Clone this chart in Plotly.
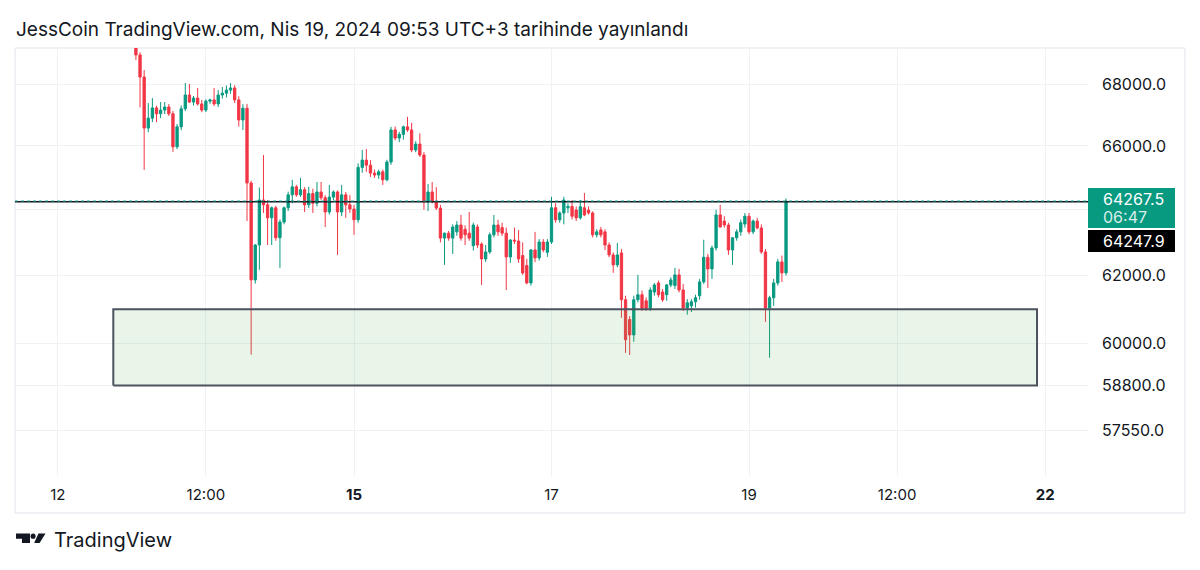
import math
import pandas as pd
import plotly.graph_objects as go

# ---------------- data (1h candles) ----------------
open_ = [69400, 68960, 68230, 66570, 66890, 67220, 67030, 67150, 67250, 67030,
         65970, 66610, 67190, 67640, 67410, 67540, 67350, 67150, 67440, 67480,
         67350, 67640, 67700, 67800, 67870, 67480, 66830, 67210, 64830, 61870,
         62920, 64300, 64150, 63750, 64060, 63140, 63620, 64060, 64460, 64710,
         64460, 64620, 64150, 64500, 64200, 64550, 64370, 63930, 64390, 64550,
         63930, 64460, 64150, 64020, 63690, 65320, 65550, 65390, 65140, 65080,
         65180, 64930, 65490, 66510, 66250, 66370, 66610, 66510, 65870, 66060,
         65710, 64240, 64550, 64240, 64050, 63130, 63280, 63130, 63320, 63530,
         63400, 63280, 62900, 63470, 62950, 62500, 62710, 63230, 63530, 63450,
         63280, 62560, 63070, 63040, 62600, 62300, 61780, 62770, 62530, 63010,
         62700, 63010, 64060, 63690, 63900, 64060, 64100, 63990, 63750, 64060,
         63990, 63900, 63230, 63380, 63320, 62920, 62620, 62320, 62680, 61280,
         60700, 60250, 61280, 61430, 61250, 61020, 61510, 61780, 61510, 61430,
         61720, 61700, 62020, 61570, 61040, 61100, 61220, 61400, 61810, 62550,
         62200, 62830, 63840, 63650, 63530, 62770, 63140, 63320, 63560, 63800,
         63320, 63650, 63440, 62710, 61040, 61340, 61780, 62410, 62080]
high = [69700, 69050, 68460, 67380, 67540, 67290, 67410, 67410, 67350, 67120,
        66700, 67300, 68030, 68000, 67610, 67870, 67480, 67500, 67520, 67870,
        67800, 67900, 67950, 68030, 67960, 67600, 67340, 67350, 64900, 62950,
        64690, 65710, 64300, 64100, 64120, 63700, 64100, 64560, 64930, 64770,
        64990, 64700, 64710, 64650, 64860, 64860, 64450, 64770, 64600, 64600,
        64770, 64550, 64450, 64150, 65450, 65870, 65900, 65550, 65250, 65250,
        65250, 65560, 66610, 66620, 66450, 66650, 66930, 66740, 66150, 66400,
        65800, 64800, 64860, 64700, 64150, 63300, 63350, 63550, 63650, 63840,
        63520, 63930, 63600, 63550, 63000, 62920, 63300, 63840, 63690, 63600,
        63450, 63100, 63450, 63380, 63000, 62500, 62800, 63320, 63100, 63100,
        63100, 64400, 64200, 63950, 64400, 64200, 64300, 64100, 64300, 64520,
        64100, 63950, 63400, 63470, 63400, 63000, 62700, 62980, 62800, 61400,
        60800, 61400, 62020, 61550, 61350, 61650, 61780, 61850, 61600, 61750,
        61950, 62230, 62200, 61750, 61300, 61300, 61430, 61900, 63080, 62650,
        62900, 64000, 64150, 63800, 63600, 63150, 63400, 63700, 63900, 63900,
        63700, 63750, 63550, 62800, 61400, 61900, 62500, 62600, 64350]
low = [68790, 67240, 65240, 66440, 66760, 66760, 66890, 67020, 66960, 65810,
       65900, 66500, 67120, 67380, 67300, 67300, 67080, 67090, 67350, 67280,
       67250, 67520, 67560, 67680, 67380, 66620, 66510, 63650, 59680, 61760,
       62170, 63900, 62920, 62920, 63050, 62230, 63550, 63960, 64200, 64400,
       64400, 63930, 64050, 63900, 64100, 64300, 63470, 63850, 64300, 62620,
       63800, 63750, 63900, 63230, 63600, 65150, 65180, 65020, 64990, 64960,
       64770, 64880, 65400, 66180, 66120, 66200, 66450, 65800, 65800, 65650,
       64000, 63960, 64200, 63990, 63000, 62320, 63050, 62650, 63200, 63050,
       62920, 63050, 62750, 62830, 61720, 62410, 62650, 63150, 63200, 63200,
       61570, 62380, 62950, 62380, 62020, 61740, 61700, 62400, 62450, 62700,
       62560, 62950, 63600, 63600, 63550, 63900, 63700, 63650, 63700, 63800,
       63850, 63150, 63150, 63150, 62770, 62550, 62080, 62250, 60750, 59730,
       59670, 60050, 61200, 60950, 60950, 60950, 61400, 61350, 61220, 61250,
       61650, 61600, 61500, 60950, 60840, 60920, 61050, 61280, 61750, 61630,
       61900, 62750, 63450, 63450, 62620, 62320, 63050, 63200, 63450, 63250,
       63250, 63400, 62650, 60630, 59590, 61100, 61700, 61810, 62000]
close = [68960, 68230, 66570, 66890, 67220, 67030, 67150, 67250, 67030, 65970,
         66610, 67190, 67640, 67410, 67540, 67350, 67150, 67440, 67480, 67350,
         67640, 67700, 67800, 67870, 67480, 66830, 67210, 64830, 61870, 62920,
         64300, 64150, 63750, 64060, 63140, 63620, 64060, 64460, 64710, 64460,
         64620, 64150, 64500, 64200, 64550, 64370, 63930, 64390, 64550, 63930,
         64460, 64150, 64020, 63690, 65320, 65550, 65390, 65140, 65080, 65180,
         64930, 65490, 66510, 66250, 66370, 66610, 66510, 65870, 66060, 65710,
         64240, 64550, 64240, 64050, 63130, 63280, 63130, 63470, 63530, 63130,
         63230, 63130, 63530, 62920, 62500, 62710, 63230, 63530, 63320, 63280,
         62560, 63070, 63040, 62500, 62080, 61780, 62770, 62530, 63010, 62770,
         63010, 64060, 63690, 63900, 64300, 64100, 63800, 63750, 64090, 63840,
         63900, 63230, 63320, 63230, 62920, 62620, 62320, 62620, 61280, 60110,
         60250, 61280, 61430, 61020, 61020, 61570, 61720, 61430, 61280, 61720,
         61870, 62020, 61570, 61040, 61190, 61220, 61340, 61810, 62550, 62200,
         62830, 63840, 63470, 63530, 62770, 63140, 63320, 63600, 63800, 63320,
         63650, 63440, 62710, 61040, 61340, 61780, 62410, 62080, 64267.5]
start_time = "2024-04-12 19:00"
times = pd.date_range(start_time, periods=len(close), freq="h")

x_tick_vals = ["2024-04-12 00:00", "2024-04-13 12:00", "2024-04-15 00:00",
               "2024-04-17 00:00", "2024-04-19 00:00", "2024-04-20 12:00",
               "2024-04-22 00:00"]
x_tick_text = ["12", "12:00", "<b>15</b>", "17", "19", "12:00", "<b>22</b>"]
y_tick_vals = [57550, 58800, 60000, 62000, 64000, 66000, 68000]
y_tick_text = ["57550.0", "58800.0", "60000.0", "62000.0", "", "66000.0", "68000.0"]

last_price = 64267.5
countdown = "06:47"
hline_price = 64247.9
zone_x = ["2024-04-12 13:30", "2024-04-21 22:00"]
zone_y = [58800, 61000]

title_text = "JessCoin TradingView.com, Nis 19, 2024 09:53 UTC+3 tarihinde yayınlandı"

x_range = ["2024-04-11 13:36:37", "2024-04-22 10:23:24"]
y_range = [math.log10(56287.4), math.log10(69191.0)]

UP = "#089981"
DOWN = "#F23645"
TXT = "#131722"
GRID = "#eff1f4"
FONT = "Inter"

# ---------------- pixel helpers for paper-anchored decorations ----------------
PL, PR, PT, PB = 15, 1088, 48, 476


def px(x):
    return (x - PL) / (PR - PL)


def py(y):
    return (PB - y) / (PB - PT)


fig = go.Figure()

# support zone rectangle (below candles)
fig.add_trace(go.Scatter(
    x=[zone_x[0], zone_x[1], zone_x[1], zone_x[0], zone_x[0]],
    y=[zone_y[0], zone_y[0], zone_y[1], zone_y[1], zone_y[0]],
    mode="lines", fill="toself", fillcolor="rgba(76,175,80,0.13)",
    line=dict(color="#4c525e", width=2), hoverinfo="skip", showlegend=False))

# horizontal drawn line and last price line
fig.add_trace(go.Scatter(x=x_range, y=[hline_price, hline_price], mode="lines",
                         line=dict(color="#131722", width=1.5),
                         hoverinfo="skip", showlegend=False))
fig.add_trace(go.Scatter(x=x_range, y=[last_price, last_price], mode="lines",
                         line=dict(color=UP, width=1, dash="dot"),
                         hoverinfo="skip", showlegend=False))

fig.add_trace(go.Candlestick(
    x=times, open=open_, high=high, low=low, close=close,
    increasing=dict(line=dict(color=UP, width=1), fillcolor=UP),
    decreasing=dict(line=dict(color=DOWN, width=1), fillcolor=DOWN),
    whiskerwidth=0, hoverinfo="skip", showlegend=False))

shapes = []
# outer frame
shapes.append(dict(type="rect", xref="paper", yref="paper",
                   x0=px(15), x1=px(1185), y0=py(513), y1=py(48),
                   line=dict(color="#e0e3eb", width=1), fillcolor="rgba(0,0,0,0)",
                   layer="below"))
# price labels
shapes.append(dict(type="rect", xref="paper", yref="paper",
                   x0=px(1088), x1=px(1175), y0=py(228), y1=py(188),
                   line=dict(width=0), fillcolor=UP, layer="above"))
shapes.append(dict(type="rect", xref="paper", yref="paper",
                   x0=px(1088), x1=px(1175), y0=py(252), y1=py(230),
                   line=dict(width=0), fillcolor="#000000", layer="above"))

# TradingView logo
pts = [(16, 533.5), (30, 533.5), (30, 543), (22, 543), (22, 538.8), (16, 538.8)]
path = "M " + " L ".join(f"{px(a):.5f},{py(b):.5f}" for a, b in pts) + " Z"
shapes.append(dict(type="path", xref="paper", yref="paper", path=path,
                   fillcolor=TXT, line=dict(width=0)))
shapes.append(dict(type="circle", xref="paper", yref="paper",
                   x0=px(30.6), x1=px(35.6), y0=py(538.8), y1=py(533.6),
                   fillcolor=TXT, line=dict(width=0)))
pts2 = [(38.4, 533.5), (45.5, 533.5), (39.6, 543), (34.2, 543)]
path2 = "M " + " L ".join(f"{px(a):.5f},{py(b):.5f}" for a, b in pts2) + " Z"
shapes.append(dict(type="path", xref="paper", yref="paper", path=path2,
                   fillcolor=TXT, line=dict(width=0)))

annotations = [
    dict(text=title_text, xref="paper", yref="paper", x=px(14), y=py(30),
         xanchor="left", yanchor="middle", showarrow=False,
         font=dict(family=FONT, size=19, color=TXT)),
    dict(text="TradingView", xref="paper", yref="paper", x=px(52), y=py(540),
         xanchor="left", yanchor="middle", showarrow=False,
         font=dict(family=FONT, size=20, color=TXT)),
    dict(text=f"{last_price:.1f}", xref="paper", yref="paper", x=px(1101), y=py(199),
         xanchor="left", yanchor="middle", showarrow=False,
         font=dict(family=FONT, size=16, color="#ffffff")),
    dict(text=countdown, xref="paper", yref="paper", x=px(1101), y=py(217),
         xanchor="left", yanchor="middle", showarrow=False,
         font=dict(family=FONT, size=16, color="rgba(255,255,255,0.85)")),
    dict(text=f"{hline_price:.1f}", xref="paper", yref="paper", x=px(1101), y=py(241),
         xanchor="left", yanchor="middle", showarrow=False,
         font=dict(family=FONT, size=16, color="#ffffff")),
]

fig.update_layout(
    width=1200, height=570,
    margin=dict(l=PL, r=1200 - PR, t=PT, b=570 - PB),
    paper_bgcolor="#ffffff", plot_bgcolor="#ffffff",
    showlegend=False, boxgap=0.2,
    font=dict(family=FONT, color=TXT),
    shapes=shapes, annotations=annotations,
    xaxis=dict(type="date", range=x_range, tickvals=x_tick_vals, ticktext=x_tick_text,
               showgrid=True, gridcolor=GRID, gridwidth=1, zeroline=False,
               showline=False, ticks="", ticklabelstandoff=8,
               tickfont=dict(family=FONT, size=15, color=TXT),
               rangeslider=dict(visible=False), fixedrange=True),
    yaxis=dict(type="log", side="right", range=y_range, tickvals=y_tick_vals,
               ticktext=y_tick_text, showgrid=True, gridcolor=GRID, gridwidth=1,
               zeroline=False, showline=False, ticks="", ticklabelstandoff=13,
               tickfont=dict(family=FONT, size=16, color=TXT), fixedrange=True),
)

fig.write_html("out.html")
